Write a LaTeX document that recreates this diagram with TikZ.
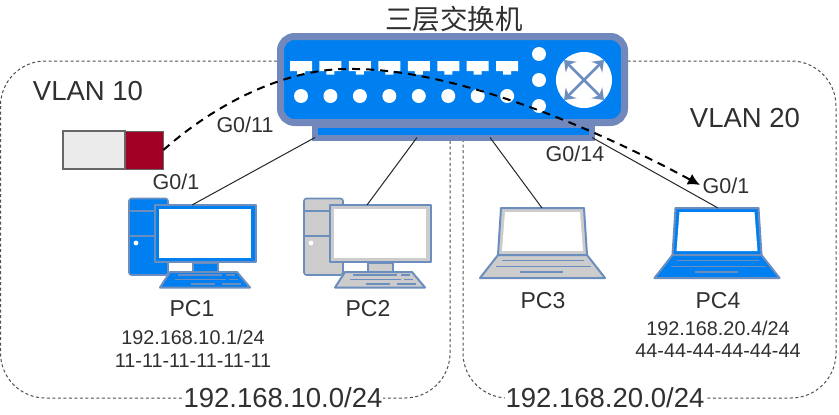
\documentclass[tikz,border=0pt]{standalone}
\usepackage{fontspec}
\setmainfont{Liberation Sans}
\newfontfamily\cjk{Noto Sans CJK SC}
\usetikzlibrary{arrows.meta}
\definecolor{swblue}{HTML}{0080F0}
\definecolor{edgeblue}{HTML}{6C8EBF}
\definecolor{frameblue}{HTML}{7088BC}
\definecolor{txt}{HTML}{303030}
\definecolor{boxline}{HTML}{505050}
\tikzset{
  vlanbox/.style={draw=boxline,line width=1pt,dash pattern=on 3pt off 2.5pt,rounded corners=45pt},
  link/.style={draw=black!85,line width=1pt},
  flow/.style={draw=black,line width=2pt,dash pattern=on 8pt off 6pt},
  lbl/.style={text=txt,inner sep=1pt,align=center},
  big/.style={lbl,font=\fontsize{27.5}{30}\selectfont},
  vlan/.style={lbl,font=\fontsize{27.5}{30}\selectfont},
  port/.style={lbl,fill=white,font=\fontsize{21.5}{24}\selectfont},
  pcname/.style={lbl,font=\fontsize{23}{26}\selectfont},
  addr/.style={lbl,font=\fontsize{19.8}{22}\selectfont},
  ic/.style={draw=edgeblue,line width=2pt,line join=round},
  ln/.style={draw=edgeblue,line width=1.5pt},
  wdot/.style={circle,fill=white,inner sep=0pt,minimum size=14pt},
  xarr/.style={draw=edgeblue,line width=2.8pt,{Stealth[length=10pt,width=15pt]}-{Stealth[length=10pt,width=15pt]}},
}
\newcommand{\desktop}[3]{%
  \begin{scope}[shift={(#1,0)}]
    \fill[#2,draw=edgeblue,line width=1.6pt,rounded corners=2.5pt] (129,198.5) rectangle (168,275);
    \draw[ln] (129,211) -- (154,211) (129,236) -- (154,236);
    \fill[white] (136,243) circle (2.4);
    \draw[ic,fill=#2] (193,263) rectangle (218,272);
    \draw[ic,fill=#3] (155,205) rectangle (256,262);
    \fill[white] (158.5,209) rectangle (250.5,258);
    \draw[ic,fill=#2] (170,272) -- (237,272) -- (250,287.5) -- (160,287.5) -- cycle;
    \draw[ln] (178,275) -- (222,275) (226,275) -- (235,275) (175,279.5) -- (226,279.5) (229,279.5) -- (238,279.5) (191,284) -- (215,284) (222,284) -- (241,284);
  \end{scope}}
\newcommand{\laptop}[3]{%
  \begin{scope}[shift={(#1,0)}]
    \draw[ic,fill=#3] (501,208) -- (584,208) -- (587,255) -- (498,255) -- cycle;
    \fill[white] (505,212) -- (580,212) -- (583,251) -- (502,251) -- cycle;
    \draw[ic,fill=#2] (498,255) -- (587,255) -- (605,278) -- (480,278) -- cycle;
    \draw[ln] (502,260.5) -- (584,260.5) (496,266.5) -- (591,266.5) (520,272) -- (563,272);
  \end{scope}}
\begin{document}
\begin{tikzpicture}[x=1pt,y=-1pt]
\useasboundingbox (0,0) rectangle (839,415);
\fill[white] (0,0) rectangle (839,415);
% VLAN areas
\draw[vlanbox] (0.5,61) rectangle (450,398);
\draw[vlanbox] (463,61) rectangle (836,398);
% Icons
\desktop{0}{swblue}{swblue}
\desktop{175}{black!20}{black!20}
\laptop{0}{black!20}{black!20}
\laptop{174.5}{swblue}{swblue}
% connector ends
\coordinate (pctop1) at (192,205);
\coordinate (pctop2) at (367,205);
\coordinate (pctop3) at (542,208);
\coordinate (pctop4) at (718,208);
\coordinate (flowend) at (700,185);
% Base and body of the switch
\node[draw=frameblue,fill=swblue,line width=6pt,minimum width=277pt,minimum height=13pt,inner sep=0pt] (swbase) at (453.5,131) {};
\coordinate (b1) at (315,137.5);
\coordinate (b2) at (417,137.5);
\coordinate (b3) at (490,137.5);
\coordinate (b4) at (592,137.5);
\draw[link] (b1) -- (pctop1);
\draw[link] (b2) -- (pctop2);
\draw[link] (b3) -- (pctop3);
\draw[link] (b4) -- (pctop4);
\node[draw=frameblue,fill=swblue,line width=7pt,rounded corners=14pt,minimum width=344pt,minimum height=86pt,inner sep=0pt] (switch) at (452.5,79.5) {};
% Ports
\foreach \i in {0,...,7}{
  \begin{scope}[shift={(\i*29.45,0)}]
    \fill[white] (290,61) rectangle (312,71) (297,71) rectangle (305,74.5);
    \node[wdot] (led\i) at (301,96) {};
  \end{scope}}
\node[wdot] (s1) at (539,54) {};
\node[wdot] (s2) at (539,80) {};
\node[wdot] (s3) at (539,106) {};
\node[circle,fill=white,inner sep=0pt,minimum size=56pt] (route) at (584,80) {};
\draw[xarr] (564,60) -- (604,100);
\draw[xarr] (604,60) -- (564,100);
% Firewall
\node[draw=black!60,fill=black!8,line width=1.2pt,minimum width=62pt,minimum height=38pt,inner sep=0pt] (fwa) at (94,150) {};
\node[draw=black!60,fill={rgb,255:red,162;green,0;blue,37},line width=.8pt,minimum width=38pt,minimum height=38pt,inner sep=0pt] (fwb) at (144,150) {};
% Dashed flow
\draw[flow,-{Latex[length=12pt,width=12pt]}] (fwb.east) .. controls (220,100) and (290,68) .. (350,69) .. controls (440,68) and (570,115) .. (flowend);
% Labels
\node[lbl,font=\cjk\fontsize{27.5}{30}\selectfont] (title) at (454,19) {三层交换机};
\node[vlan] (v10) at (88,91) {VLAN 10};
\node[vlan] (v20) at (745,118) {VLAN 20};
\node[port] (g011) at (245,125) {G0/11};
\node[port] (g01a) at (176,182) {G0/1};
\node[port] (g014) at (575,154) {G0/14};
\node[port] (g01b) at (726,186) {G0/1};
\node[pcname] (n1) at (192,309) {PC1};
\node[pcname] (n2) at (368,309) {PC2};
\node[pcname] (n3) at (543,301) {PC3};
\node[pcname] (n4) at (718,301) {PC4};
\node[addr] (i1) at (193,337) {192.168.10.1/24};
\node[addr] (m1) at (193,361) {11-11-11-11-11-11};
\node[addr] (i4) at (718,328) {192.168.20.4/24};
\node[addr] (m4) at (718,351) {44-44-44-44-44-44};
\node[big,fill=white] (net1) at (283,398) {192.168.10.0/24};
\node[big,fill=white] (net2) at (605,398) {192.168.20.0/24};
\end{tikzpicture}
\end{document}
